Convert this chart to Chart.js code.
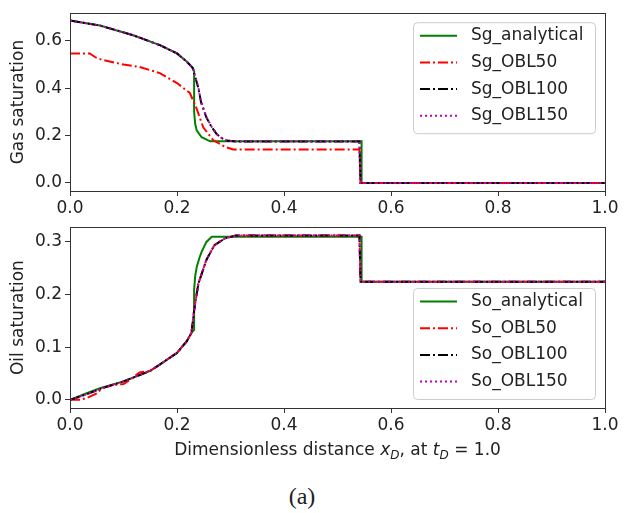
<!DOCTYPE html>
<html>
<head>
<meta charset="utf-8">
<script src="https://cdn.jsdelivr.net/npm/chart.js@4.4.0/dist/chart.umd.min.js"></script>
<style>
  body { margin: 0; background: #fff; }
  #wrap { position: relative; width: 625px; height: 513px; font-family: "DejaVu Sans", sans-serif; color: #222; }
  canvas { position: absolute; left: 0; }
  #gas { top: 0; }
  #oil { top: 214px; }
  #xlabel { position: absolute; top: 438px; left: 70px; width: 535px; text-align: center; font-size: 17px; line-height: 22px; white-space: nowrap; }
  #xlabel sub { font-size: 12px; vertical-align: 0; position: relative; top: 4px; }
  #caption { position: absolute; top: 482px; left: 0; width: 604px; text-align: center; font-family: "Liberation Serif", serif; font-size: 24px; line-height: 28px; }
</style>
</head>
<body>
<div id="wrap">
  <canvas id="gas" width="625" height="220"></canvas>
  <canvas id="oil" width="625" height="221"></canvas>
  <div id="xlabel">Dimensionless distance <i>x</i><sub><i>D</i></sub>, at <i>t</i><sub><i>D</i></sub> = 1.0</div>
  <div id="caption">(a)</div>
</div>
<script>
// tick labels
const xTicks = [0, 0.2, 0.4, 0.6, 0.8, 1.0];
const gasTicks = [0, 0.2, 0.4, 0.6];
const oilTicks = [0, 0.1, 0.2, 0.3];

// gas saturation
const sgLabels = ['Sg_analytical', 'Sg_OBL50', 'Sg_OBL100', 'Sg_OBL150'];
const sgAnalyticalX = [0, 0.056, 0.118, 0.168, 0.2, 0.218, 0.229, 0.232, 0.232, 0.234, 0.237, 0.246, 0.262, 0.545, 0.545, 1.0];
const sgAnalyticalY = [0.686, 0.665, 0.624, 0.582, 0.547, 0.513, 0.487, 0.475, 0.30, 0.25, 0.221, 0.193, 0.176, 0.176, 0, 0];
const sgObl50X = [0, 0.037, 0.048, 0.06, 0.1, 0.13, 0.168, 0.2, 0.224, 0.236, 0.249, 0.268, 0.29, 0.305, 0.541, 0.543, 1.0];
const sgObl50Y = [0.547, 0.547, 0.53, 0.52, 0.50, 0.49, 0.464, 0.422, 0.38, 0.318, 0.235, 0.18, 0.152, 0.141, 0.141, 0, 0];
const sgObl100X = [0, 0.056, 0.118, 0.168, 0.2, 0.218, 0.229, 0.235, 0.24, 0.245, 0.255, 0.265, 0.274, 0.283, 0.293, 0.31, 0.541, 0.543, 1.0];
const sgObl100Y = [0.686, 0.665, 0.624, 0.582, 0.547, 0.513, 0.487, 0.44, 0.40, 0.34, 0.276, 0.235, 0.207, 0.19, 0.179, 0.175, 0.175, 0, 0];
const sgObl150X = [0, 0.056, 0.118, 0.168, 0.2, 0.218, 0.229, 0.235, 0.24, 0.245, 0.255, 0.265, 0.274, 0.283, 0.293, 0.31, 0.541, 0.543, 1.0];
const sgObl150Y = [0.686, 0.665, 0.624, 0.582, 0.547, 0.513, 0.487, 0.442, 0.402, 0.343, 0.278, 0.236, 0.208, 0.19, 0.179, 0.175, 0.175, 0, 0];

// oil saturation
const soLabels = ['So_analytical', 'So_OBL50', 'So_OBL100', 'So_OBL150'];
const soAnalyticalX = [0, 0.03, 0.056, 0.1, 0.15, 0.2, 0.218, 0.227, 0.232, 0.232, 0.234, 0.237, 0.242, 0.246, 0.255, 0.265, 0.545, 0.545, 1.0];
const soAnalyticalY = [0, 0.012, 0.022, 0.035, 0.055, 0.089, 0.111, 0.127, 0.133, 0.209, 0.235, 0.253, 0.27, 0.281, 0.30, 0.31, 0.31, 0.2245, 0.2245];
const soObl50X = [0, 0.02, 0.035, 0.05, 0.06, 0.08, 0.1, 0.115, 0.13, 0.15, 0.17, 0.2, 0.218, 0.227, 0.232, 0.24, 0.255, 0.27, 0.29, 0.31, 0.541, 0.543, 1.0];
const soObl50Y = [0, 0, 0.005, 0.012, 0.022, 0.028, 0.03, 0.04, 0.052, 0.055, 0.068, 0.09, 0.111, 0.127, 0.17, 0.221, 0.266, 0.294, 0.307, 0.312, 0.312, 0.2245, 0.2245];
const soObl100X = [0, 0.03, 0.06, 0.1, 0.15, 0.2, 0.218, 0.227, 0.232, 0.24, 0.255, 0.27, 0.29, 0.31, 0.541, 0.543, 1.0];
const soObl100Y = [0, 0.01, 0.022, 0.035, 0.055, 0.089, 0.111, 0.127, 0.17, 0.221, 0.266, 0.294, 0.307, 0.312, 0.312, 0.2245, 0.2245];
const soObl150X = [0, 0.03, 0.06, 0.1, 0.15, 0.2, 0.218, 0.227, 0.232, 0.24, 0.255, 0.27, 0.29, 0.31, 0.541, 0.543, 1.0];
const soObl150Y = [0, 0.01, 0.022, 0.035, 0.055, 0.089, 0.111, 0.127, 0.17, 0.221, 0.266, 0.294, 0.307, 0.312, 0.312, 0.2245, 0.2245];

const FONT = '"DejaVu Sans"';
const styles = [
  { borderColor: '#008000', borderDash: [], order: 4 },
  { borderColor: '#ff0000', borderDash: [10, 3, 2, 3], order: 3 },
  { borderColor: '#000000', borderDash: [10, 3, 2, 3], order: 2 },
  { borderColor: '#bf00bf', borderDash: [2, 3], order: 1 }
];

function pts(xs, ys) {
  return xs.map((x, i) => ({ x: x, y: ys[i] }));
}

function makeSets(labels, series) {
  return series.map((s, i) => Object.assign({
    label: labels[i],
    data: pts(s[0], s[1]),
    borderWidth: 2,
    pointRadius: 0,
    tension: 0,
    fill: false
  }, styles[i]));
}

// matplotlib-like frame round the plot
const frame = {
  id: 'frame',
  afterDatasetsDraw(chart) {
    const { ctx, chartArea: a } = chart;
    ctx.save();
    ctx.strokeStyle = '#333';
    ctx.lineWidth = 1;
    ctx.strokeRect(Math.round(a.left) + 0.5, Math.round(a.top) + 0.5, Math.round(a.right - a.left), Math.round(a.bottom - a.top));
    ctx.restore();
  }
};

// legend box inside the plot
const legendBox = {
  id: 'legendBox',
  afterDatasetsDraw(chart, args, opts) {
    const { ctx, chartArea: a } = chart;
    const w = 182, h = 111;
    const x = a.right - 10 - w;
    const y = opts.corner === 'bottom' ? a.bottom - 9 - h : a.top + 9;
    ctx.save();
    ctx.beginPath();
    ctx.roundRect(x + 0.5, y + 0.5, w, h, 4);
    ctx.fillStyle = 'rgba(255,255,255,0.8)';
    ctx.fill();
    ctx.strokeStyle = '#cccccc';
    ctx.lineWidth = 1;
    ctx.stroke();
    ctx.font = '17px ' + FONT;
    ctx.textBaseline = 'middle';
    chart.data.datasets.forEach((ds, i) => {
      const cy = y + 13.5 + i * 26.7;
      ctx.beginPath();
      ctx.setLineDash(ds.borderDash);
      ctx.strokeStyle = ds.borderColor;
      ctx.lineWidth = ds.borderWidth;
      ctx.moveTo(x + 7, cy);
      ctx.lineTo(x + 44, cy);
      ctx.stroke();
      ctx.setLineDash([]);
      ctx.fillStyle = '#222';
      ctx.fillText(ds.label, x + 58, cy);
    });
    ctx.restore();
  }
};

function makeChart(id, datasets, yMin, yMax, yTicks, yTitle, padTop, xHeight, corner) {
  return new Chart(document.getElementById(id).getContext('2d'), {
    type: 'line',
    data: { datasets: datasets },
    options: {
      responsive: false,
      animation: false,
      layout: { padding: { top: padTop, right: 20, left: 0, bottom: 0 } },
      plugins: {
        legend: { display: false },
        tooltip: { enabled: false },
        legendBox: { corner: corner }
      },
      scales: {
        x: {
          type: 'linear',
          min: 0,
          max: 1,
          afterBuildTicks: s => { s.ticks = xTicks.map(v => ({ value: v })); },
          afterFit: s => { s.height = xHeight; },
          ticks: { color: '#222', padding: 2, maxRotation: 0, font: { family: FONT, size: 17 }, callback: v => v.toFixed(1) },
          grid: { drawOnChartArea: false, drawTicks: true, tickLength: 5, color: '#333' },
          border: { display: false }
        },
        y: {
          type: 'linear',
          min: yMin,
          max: yMax,
          afterBuildTicks: s => { s.ticks = yTicks.map(v => ({ value: v })); },
          afterFit: s => { s.width = 70; },
          ticks: { color: '#222', padding: 3, font: { family: FONT, size: 17 }, callback: v => v.toFixed(1) },
          grid: { drawOnChartArea: false, drawTicks: true, tickLength: 5, color: '#333' },
          border: { display: false },
          title: { display: true, text: yTitle, color: '#222', padding: { top: 8, bottom: 0 }, font: { family: FONT, size: 17, lineHeight: 1.2 } }
        }
      }
    },
    plugins: [frame, legendBox]
  });
}

makeChart('gas', makeSets(sgLabels, [
  [sgAnalyticalX, sgAnalyticalY],
  [sgObl50X, sgObl50Y],
  [sgObl100X, sgObl100Y],
  [sgObl150X, sgObl150Y]
]), -0.034, 0.717, gasTicks, 'Gas saturation', 11, 29, 'top');

makeChart('oil', makeSets(soLabels, [
  [soAnalyticalX, soAnalyticalY],
  [soObl50X, soObl50Y],
  [soObl100X, soObl100Y],
  [soObl150X, soObl150Y]
]), -0.0156, 0.328, oilTicks, 'Oil saturation', 13, 27, 'bottom');
</script>
</body>
</html>
